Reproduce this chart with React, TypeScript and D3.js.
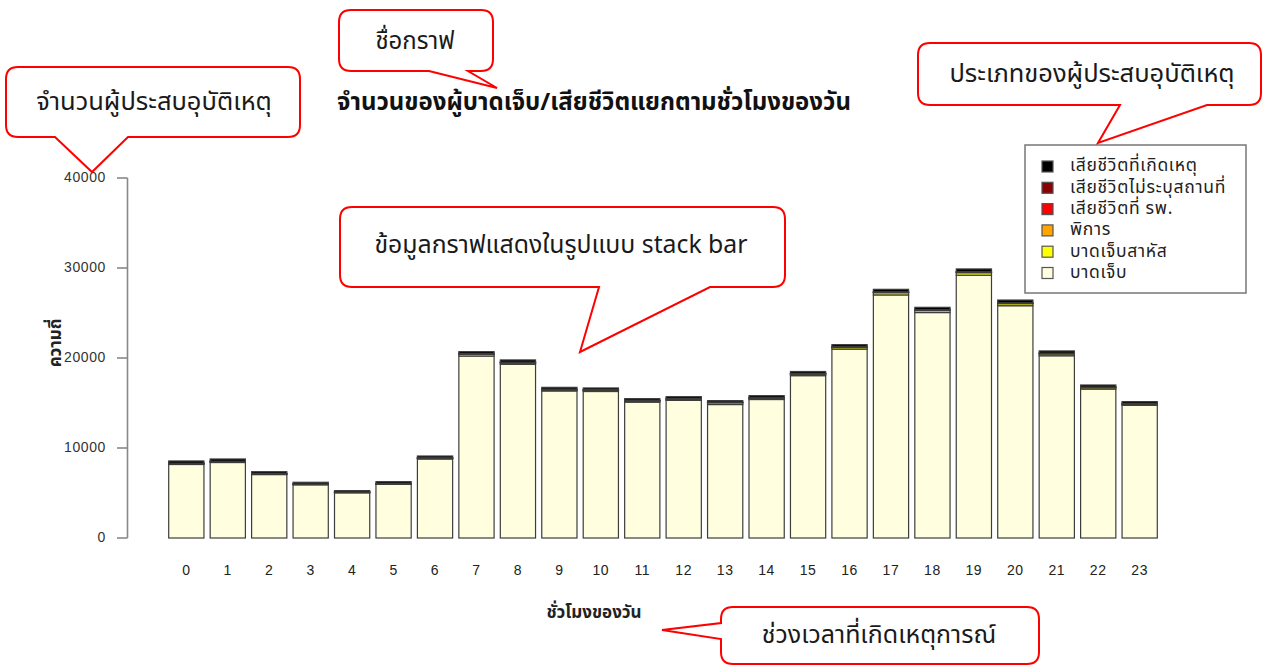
import * as d3 from 'd3';

// hours of the day (x categories)
const hours = ['0', '1', '2', '3', '4', '5', '6', '7', '8', '9', '10', '11', '12', '13', '14', '15', '16', '17', '18', '19', '20', '21', '22', '23'];

// stacked series, bottom to top
const injured = [8170, 8390, 7050, 5910, 5020, 5960, 8780, 20220, 19300, 16340, 16280, 15090, 15290, 14830, 15390, 18040, 20990, 27010, 25050, 29200, 25810, 20250, 16550, 14740];
const serious = [80, 80, 70, 60, 50, 60, 90, 180, 150, 130, 130, 140, 140, 200, 140, 170, 180, 250, 220, 280, 230, 200, 160, 140];
const disabled = [10, 10, 8, 6, 5, 6, 10, 20, 20, 15, 15, 15, 15, 15, 15, 20, 20, 25, 25, 30, 25, 20, 15, 15];
const deadHospital = [30, 30, 25, 20, 20, 20, 25, 40, 40, 35, 35, 30, 30, 30, 30, 35, 40, 45, 45, 50, 45, 40, 35, 30];
const deadUnknown = [20, 20, 15, 15, 10, 15, 15, 25, 25, 20, 20, 20, 20, 20, 20, 25, 25, 30, 30, 35, 30, 25, 20, 20];
const deadScene = [250, 250, 200, 180, 160, 200, 190, 220, 250, 200, 190, 190, 210, 170, 220, 210, 230, 270, 260, 300, 300, 250, 220, 210];

const yTicks = [0, 10000, 20000, 30000, 40000];

const seriesKeys = ['injured', 'serious', 'disabled', 'deadHospital', 'deadUnknown', 'deadScene'];
const seriesNames = ['บาดเจ็บ', 'บาดเจ็บสาหัส', 'พิการ', 'เสียชีวิตที่ รพ.', 'เสียชีวิตไม่ระบุสถานที่', 'เสียชีวิตที่เกิดเหตุ'];
const seriesColors = ['#FFFFE0', '#FFFF00', '#FFA500', '#FF0000', '#8B0000', '#000000'];

const title = 'จำนวนของผู้บาดเจ็บ/เสียชีวิตแยกตามชั่วโมงของวัน';
const xTitle = 'ชั่วโมงของวัน';
const yTitle = 'ความถี่';

const thaiFont = "'Noto Sans Thai', 'Noto Sans Thai UI', Loma, Garuda, Waree, 'Tlwg Typo', Tahoma, 'DejaVu Sans', sans-serif";
const numFont = "'Liberation Sans', Arial, Helvetica, sans-serif";

// rounded box with a pointed tail; side = which edge the tail leaves from
function calloutPath(x0, y0, x1, y1, r, side, a, b, tip) {
  if (side === 'bottom') {
    return `M${x0 + r},${y0} H${x1 - r} Q${x1},${y0} ${x1},${y0 + r} V${y1 - r} Q${x1},${y1} ${x1 - r},${y1}` +
      ` H${b} L${tip[0]},${tip[1]} L${a},${y1} H${x0 + r} Q${x0},${y1} ${x0},${y1 - r} V${y0 + r} Q${x0},${y0} ${x0 + r},${y0} Z`;
  }
  // left side: a = upper y, b = lower y
  return `M${x0 + r},${y0} H${x1 - r} Q${x1},${y0} ${x1},${y0 + r} V${y1 - r} Q${x1},${y1} ${x1 - r},${y1}` +
    ` H${x0 + r} Q${x0},${y1} ${x0},${y1 - r} V${b} L${tip[0]},${tip[1]} L${x0},${a} V${y0 + r} Q${x0},${y0} ${x0 + r},${y0} Z`;
}

const callouts = [
  { text: 'จำนวนผู้ประสบอุบัติเหตุ', box: [6, 67, 300, 137], side: 'bottom', a: 55, b: 128, tip: [92, 172], tx: 154, ty: 103, fs: 25.5 },
  { text: 'ชื่อกราฟ', box: [339, 10, 493, 71], side: 'bottom', a: 429, b: 468, tip: [497, 88], tx: 415, ty: 42, fs: 24 },
  { text: 'ประเภทของผู้ประสบอุบัติเหตุ', box: [918, 43, 1261, 105], side: 'bottom', a: 1120, b: 1207, tip: [1098, 143], tx: 1092, ty: 75, fs: 25.5 },
  { text: 'ข้อมูลกราฟแสดงในรูปแบบ stack bar', box: [340, 207, 785, 287], side: 'bottom', a: 599, b: 710, tip: [580, 352], tx: 561, ty: 246, fs: 24.8 },
  { text: 'ช่วงเวลาที่เกิดเหตุการณ์', box: [721, 607, 1039, 664], side: 'left', a: 623, b: 639, tip: [662, 630], tx: 879, ty: 636, fs: 25 },
];

export default function App() {
  const rows = hours.map((h, i) => ({
    hour: h,
    injured: injured[i],
    serious: serious[i],
    disabled: disabled[i],
    deadHospital: deadHospital[i],
    deadUnknown: deadUnknown[i],
    deadScene: deadScene[i],
  }));
  const stacked = d3.stack().keys(seriesKeys)(rows);

  const x = d3.scaleBand().domain(hours).range([165.6, 1160.4]).paddingInner(0.15).paddingOuter(0.075);
  const y = d3.scaleLinear().domain([0, 40000]).range([538, 178]);

  const legendX = 1025;
  const legendY = 145;

  return (
    <div style={{ position: 'absolute', left: 0, top: 0 }}>
      <svg width={1263} height={668} style={{ display: 'block', background: '#fff' }}>
        {/* title */}
        <text x={594} y={103} textAnchor="middle" dominantBaseline="middle" fontFamily={thaiFont} fontWeight="bold" fontSize={24} fill="#111">{title}</text>

        {/* bars */}
        {stacked.map((s, si) => (
          <g key={s.key} fill={seriesColors[si]} stroke="#3d3d3d" strokeWidth={1.2}>
            {s.map((d, i) => (
              <rect key={i} x={x(hours[i])} y={y(d[1])} width={x.bandwidth()} height={Math.max(0, y(d[0]) - y(d[1]))} />
            ))}
          </g>
        ))}

        {/* y axis */}
        <line x1={127.5} x2={127.5} y1={y(0)} y2={y(40000)} stroke="#888" strokeWidth={1.6} />
        {yTicks.map((t) => (
          <g key={t}>
            <line x1={117} x2={127.5} y1={y(t)} y2={y(t)} stroke="#888" strokeWidth={1.6} />
            <text x={106} y={y(t)} textAnchor="end" dominantBaseline="middle" fontFamily={numFont} fontSize={14} fill="#333" letterSpacing={0.6}>{t}</text>
          </g>
        ))}
        <text transform={`translate(56,343) rotate(-90)`} textAnchor="middle" dominantBaseline="middle" fontFamily={thaiFont} fontWeight="bold" fontSize={17} fill="#222">{yTitle}</text>

        {/* x labels */}
        {hours.map((h) => (
          <text key={h} x={x(h) + x.bandwidth() / 2} y={571} textAnchor="middle" dominantBaseline="middle" fontFamily={numFont} fontSize={14} fill="#222" letterSpacing={0.6}>{h}</text>
        ))}
        <text x={594} y={613} textAnchor="middle" dominantBaseline="middle" fontFamily={thaiFont} fontWeight="bold" fontSize={17} fill="#222">{xTitle}</text>

        {/* legend */}
        <rect x={legendX} y={legendY} width={221} height={148} fill="#fff" stroke="#777" strokeWidth={1.5} />
        {seriesNames.slice().reverse().map((name, i) => {
          const ci = seriesNames.length - 1 - i;
          const cy = legendY + 21.5 + i * 21.3;
          return (
            <g key={name}>
              <rect x={legendX + 17} y={cy - 5.5} width={11} height={11} fill={seriesColors[ci]} stroke="#555" strokeWidth={1.2} />
              <text x={legendX + 45} y={cy} dominantBaseline="middle" fontFamily={thaiFont} fontSize={17.5} letterSpacing={0.7} fill="#222">{name}</text>
            </g>
          );
        })}

        {/* annotation callouts */}
        {callouts.map((c) => (
          <g key={c.text}>
            <path d={calloutPath(c.box[0], c.box[1], c.box[2], c.box[3], 12, c.side, c.a, c.b, c.tip)} fill="#fff" stroke="#ff0000" strokeWidth={2} strokeLinejoin="miter" />
            <text x={c.tx} y={c.ty} textAnchor="middle" dominantBaseline="middle" fontFamily={thaiFont} fontSize={c.fs} fill="#1a1a1a">{c.text}</text>
          </g>
        ))}
      </svg>
    </div>
  );
}
